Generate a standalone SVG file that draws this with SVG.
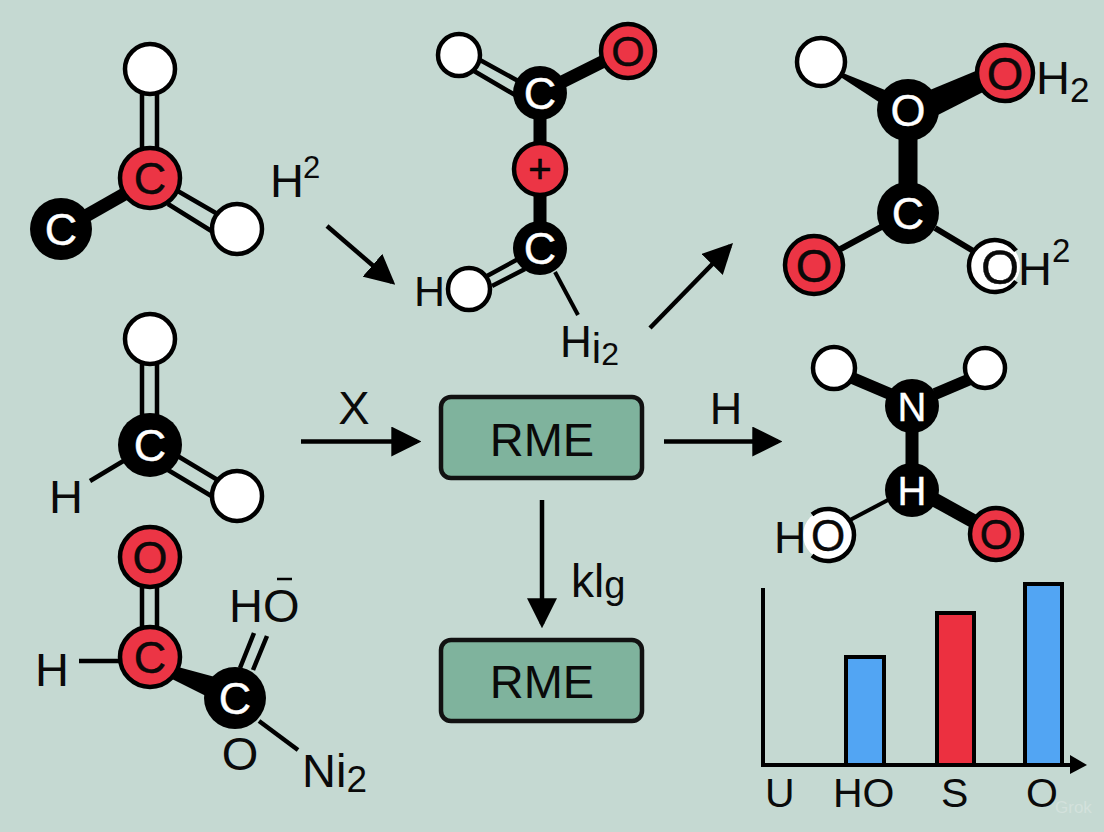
<svg xmlns="http://www.w3.org/2000/svg" width="1104" height="832" viewBox="0 0 1104 832">
<style>
text{font-family:"Liberation Sans",Arial,sans-serif;fill:#0a0a0a}
.a{stroke:#000;fill:none}
.h{fill:#fff;stroke:#000;stroke-width:4.5}
.r{fill:#ec3545;stroke:#000;stroke-width:4.5}
.k{fill:#000}
.m{text-anchor:middle}
.l{font-size:47px}
.n{font-size:45px;text-anchor:middle;stroke-width:.4;stroke:#000}
.i{fill:#fff;stroke:#fff}
.box{fill:#7fb39d;stroke:#111;stroke-width:4.5}
.bar{stroke:#000;stroke-width:4}
</style>
<defs>
<marker id="ah" markerUnits="userSpaceOnUse" markerWidth="30" markerHeight="30" refX="24" refY="14" orient="auto" viewBox="0 0 28 28"><path d="M0 0L28 14L0 28Z" fill="#000"/></marker>
</defs>
<rect width="1104" height="832" fill="#c5d9d2"/>
<g id="connectors">
<g class="a" stroke-width="4.5">
<path d="M327 226L392 282" marker-end="url(#ah)"/>
<path d="M650 328L730 246" marker-end="url(#ah)"/>
<path d="M301 441.5L417 441.5" marker-end="url(#ah)"/>
<path d="M664 441.5L778 441.5" marker-end="url(#ah)"/>
<path d="M542 500L542 624" marker-end="url(#ah)"/>
</g>
</g>
<g id="mol1">
<path class="a" stroke-width="4.5" d="M142 92V152M157 92V152M176 190L221 216M168 204L213 232"/>
<path class="a" stroke-width="13" d="M128 192L84 217"/>
<circle class="h" cx="150" cy="69" r="25"/><circle class="h" cx="237" cy="229" r="25"/>
<circle class="r" cx="150" cy="178" r="30"/><circle class="k" cx="61" cy="229" r="31"/>
<text class="n" x="150" y="194">C</text>
<text class="n i" x="61" y="245">C</text>
</g>
<g id="label-h2-1"><text class="l" x="270" y="197">H</text><text x="303" y="178" font-size="31">2</text></g>
<g id="mol2">
<path class="a" stroke-width="4.5" d="M480 60L520 82M474 71L515 95M487 276L520 258M492 286L525 269"/>
<path class="a" stroke-width="13" d="M540 100V240"/>
<path class="a" stroke-width="13" d="M560 83L610 58"/>
<path class="a" stroke-width="4" d="M555 272L578 315"/>
<circle class="h" cx="459" cy="55" r="21"/><circle class="r" cx="628" cy="51" r="27"/>
<circle class="k" cx="540" cy="93" r="27"/><circle class="r" cx="540" cy="169" r="26"/>
<circle class="k" cx="540" cy="248" r="27"/><circle class="h" cx="469" cy="289" r="21"/>
<text class="n" x="628" y="66" style="font-size:43px">O</text>
<text class="n i" x="540" y="109">C</text>
<text class="m" x="540" y="183" font-size="40" stroke="#000" stroke-width=".6">+</text>
<text class="n i" x="540" y="264">C</text>
<text x="414" y="306" font-size="43">H</text>
<text x="560" y="357" font-size="44">H<tspan font-size="42" dy="6">i</tspan><tspan font-size="32" dy="2">2</tspan></text>
</g>
<g id="mol3">
<path d="M838 71L842 78L885 106L890 92Z" fill="#000"/>
<path d="M925 92L983 68L991 88L932 118Z" fill="#000"/>
<path class="a" stroke-width="19" d="M908 125V200"/>
<path class="a" stroke-width="6" d="M835 252L885 225M935 228L975 252"/>
<circle class="h" cx="821" cy="62" r="24"/><circle class="r" cx="1005" cy="73" r="28"/>
<circle class="k" cx="908" cy="110" r="31"/><circle class="k" cx="908" cy="213" r="31"/>
<circle class="r" cx="814" cy="265" r="29"/>
<circle cx="995" cy="266" r="25" fill="#fff"/>
<path class="a" stroke-width="4.5" d="M1016 250.7A26 26 0 1 0 1016 281.3"/>
<text class="n i" x="908" y="126">O</text>
<text class="n i" x="908" y="229">C</text>
<text class="n" x="1005" y="90" style="font-size:47px">O</text>
<text class="n" x="814" y="282" style="font-size:47px">O</text>
<text class="n" x="1000" y="284" style="font-size:49px">O</text>
<text x="1018" y="285" class="l">H</text><text x="1052" y="262" font-size="33">2</text>
<text x="1036" y="94" class="l">H<tspan font-size="35" dy="8">2</tspan></text>
</g>
<g id="mol4">
<path class="a" stroke-width="4.5" d="M142 362V420M157 362V420M176 455L221 482M168 470L213 497"/>
<path class="a" stroke-width="4.5" d="M90 481L125 460"/>
<circle class="h" cx="150" cy="339" r="25"/><circle class="h" cx="237" cy="496" r="25"/>
<circle class="k" cx="150" cy="445" r="32"/>
<text class="n i" x="150" y="461">C</text>
<text x="49" y="513" class="l">H</text>
</g>
<g id="mol5">
<path class="a" stroke-width="4.5" d="M142 585V630M157 585V630M79 661H122M254 633L240 668M267 636L253 670"/>
<path class="a" stroke-width="4.5" d="M259 721L298 750"/>
<path d="M178 667L215 677L206 696L170 678Z" fill="#000"/>
<circle class="r" cx="150" cy="557" r="30"/><circle class="r" cx="150" cy="657" r="30"/>
<circle class="k" cx="235" cy="698" r="31"/>
<text class="n" x="150" y="573">O</text><text class="n" x="150" y="673">C</text>
<text class="n i" x="235" y="714">C</text>
<text x="35" y="686" class="l">H</text>
<text x="229" y="622" class="l">HO</text>
<path class="a" stroke-width="2.5" d="M277 579H292"/>
<text class="m l" x="240" y="770">O</text>
<text x="302" y="787" class="l">Ni<tspan font-size="37" dy="5">2</tspan></text>
</g>
<g id="mol6">
<path class="a" stroke-width="12" d="M850 377L890 394M975 377L935 394"/>
<path class="a" stroke-width="13" d="M912 425V470"/>
<path class="a" stroke-width="4" d="M850 520L888 500"/>
<path class="a" stroke-width="14" d="M935 500L975 522"/>
<circle class="h" cx="834" cy="368" r="21"/><circle class="h" cx="985" cy="368" r="20"/>
<circle class="k" cx="912" cy="406" r="27"/><circle class="k" cx="912" cy="490" r="27"/>
<circle cx="828" cy="535" r="25" fill="#fff"/>
<path class="a" stroke-width="4.5" d="M812 514.5A26 26 0 1 1 812 555.5"/>
<circle class="r" cx="996" cy="534" r="26"/>
<text class="n i" x="912" y="421" style="font-size:40px">N</text>
<text class="n i" x="912" y="505" style="font-size:40px">H</text>
<text class="n" x="996" y="549" style="font-size:42px">O</text>
<text x="774" y="553" font-size="45">H</text>
<text class="n" x="828" y="551" style="font-size:44px">O</text>
</g>
<g id="rme1"><rect class="box" x="441" y="397" width="201" height="81" rx="10"/><text class="m" x="542" y="456" font-size="47">RME</text></g>
<g id="rme2"><rect class="box" x="441" y="640" width="201" height="81" rx="10"/><text class="m" x="542" y="698" font-size="47">RME</text></g>
<g id="labels">
<text class="m" x="354" y="424" font-size="47">X</text>
<text class="m" x="726" y="424" font-size="45">H</text>
<text x="571" y="597" font-size="46">kl<tspan font-size="38" dy="1">g</tspan></text>
</g>
<g id="chart">
<rect class="bar" x="846" y="657" width="38" height="108" fill="#52a5f3"/>
<rect class="bar" x="937" y="613" width="37" height="152" fill="#ec3040"/>
<rect class="bar" x="1025" y="584" width="37" height="181" fill="#52a5f3"/>
<path class="a" stroke-width="4" d="M763 588V767"/>
<path class="a" stroke-width="4" d="M761 765H1075"/>
<path d="M1070 755L1087 765L1070 774Z" fill="#000"/>
<g font-size="41"><text x="765" y="807">U</text><text x="833" y="807">HO</text><text x="941" y="807">S</text><text x="1026" y="807">O</text></g>
<text x="1055" y="813" font-size="17" style="fill:#d3e1dc">Grok</text>
</g>
</svg>
